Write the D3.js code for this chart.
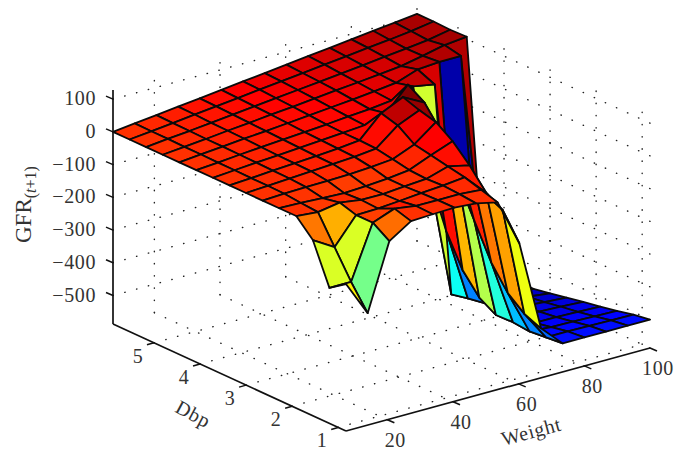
<!DOCTYPE html>
<html>
<head>
<meta charset="utf-8">
<style>
  html, body { margin: 0; padding: 0; background: #fff; }
  svg { display: block; }
  text { font-family: "Liberation Serif", serif; fill: #333; }
</style>
</head>
<body>
<svg id="chart" width="686" height="461"></svg>
<script src="https://d3js.org/d3.v7.min.js"></script>
<script>
const weightGrid = [7.4, 14, 20.6, 27.2, 33.8, 40.4, 47, 53.6, 60.2, 66.8, 73.4, 80, 86.6, 93.2, 100];
const dbpGrid = [0.83, 1.19, 1.55, 1.91, 2.28, 2.64, 3.0, 3.36, 3.72, 4.08, 4.45, 4.81, 5.17, 5.53, 5.89];

// one row per dbpGrid value, columns follow weightGrid
const gfrDbp00 = [-138, -245, -43, 0, 3, 5, 0, -15, -158, -436, -500, -500, -500, -500, -500];
const gfrDbp01 = [-173, -173, -10, 15, 5, 5, 5, 0, -80, -415, -505, -505, -506, -507, -508];
const gfrDbp02 = [-50, -90, -10, -8, -3, 3, 8, 15, -50, -375, -510, -515, -516, -518, -520];
const gfrDbp03 = [0, -6, 5, -5, -5, 0, 5, 25, 10, -304, -505, -525, -526, -528, -530];
const gfrDbp04 = [0, -2, -5, -8, -5, 0, 8, 35, 60, -200, -507, -530, -533, -536, -540];
const gfrDbp05 = [0, 3, 5, 6, 8, 12, 18, 45, 95, -95, -477, -532, -540, -545, -550];
const gfrDbp06 = [0, 4, 8, 12, 16, 20, 27, 80, 108, 25, -417, -535, -545, -552, -560];
const gfrDbp07 = [0, 4, 9, 13, 17, 22, 29, 94, 125, 90, -320, -544, -552, -560, -570];
const gfrDbp08 = [0, 5, 10, 14, 19, 24, 29, 34, 52, 122, -180, -555, -570, -570, -570];
const gfrDbp09 = [0, 5, 11, 16, 21, 26, 31, 37, 42, 50, 75, 63, -570, -570, -570];
const gfrDbp10 = [0, 6, 12, 18, 23, 29, 35, 41, 47, 54, 62, 85, 90, 90, -570];
const gfrDbp11 = [0, 6, 12, 19, 25, 32, 38, 45, 52, 58, 65, 72, 85, 100, 107];
const gfrDbp12 = [0, 7, 13, 20, 27, 34, 41, 48, 55, 62, 69, 77, 84, 92, 105];
const gfrDbp13 = [0, 7, 14, 22, 29, 36, 44, 51, 58, 66, 73, 81, 88, 96, 107];
const gfrDbp14 = [0, 8, 15, 23, 30, 38, 46, 53, 61, 69, 76, 84, 92, 99, 107];

const gfrRows = [gfrDbp00, gfrDbp01, gfrDbp02, gfrDbp03, gfrDbp04, gfrDbp05, gfrDbp06, gfrDbp07,
  gfrDbp08, gfrDbp09, gfrDbp10, gfrDbp11, gfrDbp12, gfrDbp13, gfrDbp14];

const weightTicks = [20, 40, 60, 80, 100];
const dbpTicks = [1, 2, 3, 4, 5];
const gfrTicks = [100, 0, -100, -200, -300, -400, -500];

const svg = d3.select('#chart');

// box fractions, the view itself is a fixed oblique projection
const fw = d3.scaleLinear().domain([7.4, 100]).range([0, 1]);
const fd = d3.scaleLinear().domain([0.83, 5.89]).range([0, 1]);
const fz = d3.scaleLinear().domain([-587, 128]).range([0, 1]);

function project(w, d, z) {
  return [
    346 + 304 * fw(w) - 233 * fd(d),
    431 - 83 * fw(w) - 107 * fd(d) - 234 * fz(z),
  ];
}

// larger = further from the viewer
function depth(w, d, z) {
  return 0.934 * (0.612 * 380 * fw(w) + 0.79 * 380 * fd(d)) - 0.357 * 0.35 * z;
}

const jet = d3.scaleLinear()
  .domain([0, 0.125, 0.375, 0.625, 0.875, 1])
  .range(['#000080', '#0000ff', '#00ffff', '#ffff00', '#ff0000', '#800000'])
  .clamp(true);
const colorT = d3.scaleLinear().domain([-600, 125]).range([0, 1]);

const line = d3.line();

// dotted grid on floor and the two back walls
const wMin = 7.4, wMax = 100, dMin = 0.83, dMax = 5.89, zMin = -587, zMax = 128;
const gridSegments = [];
weightTicks.forEach((w) => {
  gridSegments.push([[w, dMin, zMin], [w, dMax, zMin]]);
  gridSegments.push([[w, dMax, zMin], [w, dMax, zMax]]);
});
dbpTicks.forEach((d) => {
  gridSegments.push([[wMin, d, zMin], [wMax, d, zMin]]);
  gridSegments.push([[wMax, d, zMin], [wMax, d, zMax]]);
});
gfrTicks.forEach((z) => {
  gridSegments.push([[wMin, dMax, z], [wMax, dMax, z]]);
  gridSegments.push([[wMax, dMin, z], [wMax, dMax, z]]);
});

svg.append('g')
  .selectAll('path')
  .data(gridSegments)
  .enter()
  .append('path')
  .attr('d', (s) => line(s.map((p) => project(p[0], p[1], p[2]))))
  .attr('fill', 'none')
  .attr('stroke', '#222')
  .attr('stroke-width', 1.4)
  .attr('stroke-linecap', 'round')
  .attr('stroke-dasharray', '0.4 11.8');

// surface cells, far ones first
const cells = [];
for (let j = 0; j < dbpGrid.length - 1; j += 1) {
  for (let i = 0; i < weightGrid.length - 1; i += 1) {
    const corners = [[i, j], [i + 1, j], [i + 1, j + 1], [i, j + 1]]
      .map(([a, b]) => [weightGrid[a], dbpGrid[b], gfrRows[b][a]]);
    cells.push({
      corners,
      value: gfrRows[j][i],
      far: d3.mean(corners, (c) => depth(c[0], c[1], c[2])),
    });
  }
}
cells.sort((a, b) => b.far - a.far);

svg.append('g')
  .selectAll('path')
  .data(cells)
  .enter()
  .append('path')
  .attr('d', (c) => `${line(c.corners.map((p) => project(p[0], p[1], p[2])))}Z`)
  .attr('fill', (c) => jet(colorT(c.value)))
  .attr('stroke', '#0a0a0a')
  .attr('stroke-width', 1.8)
  .attr('stroke-linejoin', 'round');

// axes
const axisLines = [
  [[wMin, dMax, zMax], [wMin, dMax, zMin]],
  [[wMin, dMax, zMin], [wMin, dMin, zMin]],
  [[wMin, dMin, zMin], [wMax, dMin, zMin]],
];
const axisG = svg.append('g');
axisG.selectAll('.axis-line')
  .data(axisLines)
  .enter()
  .append('path')
  .attr('class', 'axis-line')
  .attr('d', (s) => line(s.map((p) => project(p[0], p[1], p[2]))))
  .attr('fill', 'none')
  .attr('stroke', '#111')
  .attr('stroke-width', 1.7);

function tick(p, dx, dy) {
  const [x, y] = project(p[0], p[1], p[2]);
  axisG.append('line')
    .attr('x1', x).attr('y1', y)
    .attr('x2', x + dx).attr('y2', y + dy)
    .attr('stroke', '#111')
    .attr('stroke-width', 1.5);
}

function label(str, x, y, anchor) {
  return svg.append('text')
    .attr('x', x)
    .attr('y', y)
    .attr('text-anchor', anchor)
    .attr('font-size', 20)
    .attr('letter-spacing', 0.6)
    .text(str);
}

gfrTicks.forEach((z) => {
  tick([wMin, dMax, z], -7, -3);
  const [x, y] = project(wMin, dMax, z);
  label(String(z).replace('-', '\u2212'), x - 17, y + 6, 'end');
});
weightTicks.forEach((w) => {
  tick([w, dMin, zMin], 7, 3);
  const [x, y] = project(w, dMin, zMin);
  label(String(w), x + 8, y + 27, 'middle');
});
dbpTicks.forEach((d) => {
  tick([wMin, d, zMin], -7, 2);
  const [x, y] = project(wMin, d, zMin);
  label(String(d), x - 16, y + 20, 'middle');
});

label('Weight', 0, 0, 'middle').attr('transform', 'translate(533,438) rotate(-15)');
label('Dbp', 0, 0, 'middle').attr('transform', 'translate(190,420) rotate(28)');

const yLabel = svg.append('text')
  .attr('transform', 'translate(31,243) rotate(-90)')
  .attr('font-size', 23);
yLabel.append('tspan').text('GFR');
yLabel.append('tspan').attr('font-size', 16).attr('dy', 5).text('(');
yLabel.append('tspan').attr('font-size', 16).attr('font-style', 'italic').text('t');
yLabel.append('tspan').attr('font-size', 16).text('+1)');
</script>
</body>
</html>
